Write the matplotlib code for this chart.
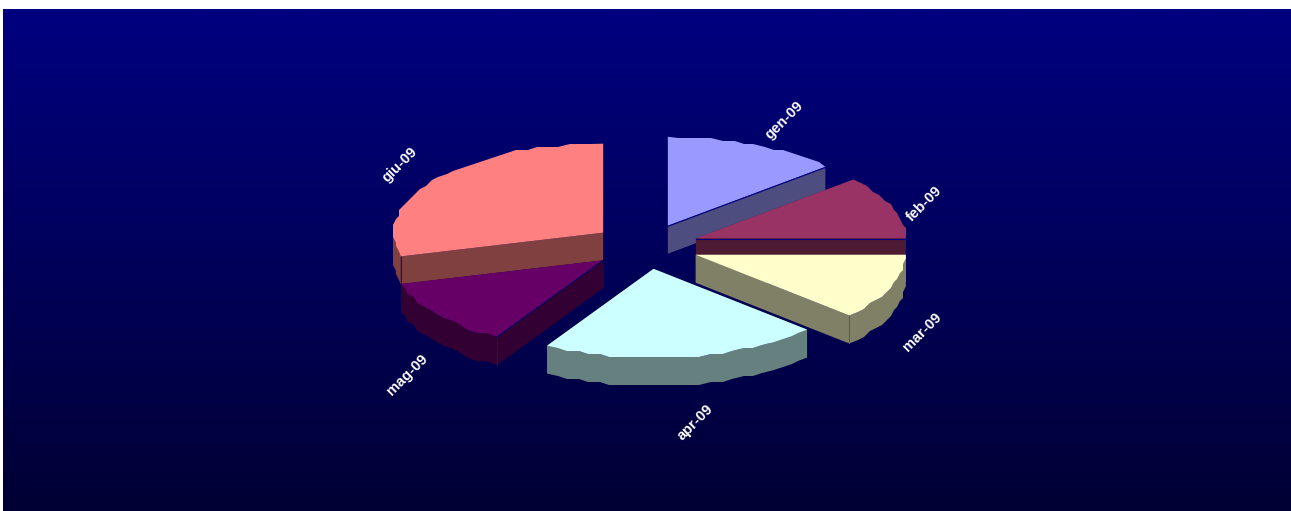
import numpy as np
import matplotlib
matplotlib.use("Agg")
import matplotlib.pyplot as plt

# Data (share of the pie, per cent)
mesi = ["gen-09", "feb-09", "mar-09", "apr-09", "mag-09", "giu-09"]
valori = [13.5, 11.5, 11.95, 21.5, 12.25, 29.3]
colori = ["#9999ff", "#993366", "#ffffcc", "#ccffff", "#660066", "#ff8080"]
colori_lato = ["#4d4d80", "#4d1a33", "#808066", "#668080", "#330033", "#804040"]

plt.rcParams["font.family"] = ["Liberation Sans", "DejaVu Sans"]

# Layout of the tilted pie, in pixels
cx, cy = 645.8, 246.4
rx, ry = 210.0, 89.0
esplosione = 0.255
spessore = 28.0
ordine = [0, 1, 2, 5, 4, 3]   # back to front
etichetta_offset = [(30, -24), (32, -3), (31, 45), (12, 65), (-30, 60), (-36, -14)]

fig = plt.figure(figsize=(12.91, 5.11), dpi=100, facecolor="white")
ax = fig.add_axes([0, 0, 1, 1])
ax.axis("off")

# Background gradient
sfondo = np.linspace(0, 1, 256)
img = np.zeros((256, 1, 3))
img[:, 0, 2] = (128 - 76 * sfondo) / 255
ax.imshow(img, extent=(3, 1291, 511, 9), aspect="auto", interpolation="bilinear", zorder=0)
ax.set_xlim(0, 1291)
ax.set_ylim(511, 0)

fine = np.cumsum(valori) / np.sum(valori) * 360
inizio = np.concatenate(([0], fine[:-1]))


def punto(x0, y0, gradi):
    t = np.radians(gradi)
    return x0 + rx * np.sin(t), y0 - ry * np.cos(t)


def bordo(x0, y0, a, b):
    # rim of a slice, snapped to a coarse grid like the original renderer
    n = max(int((b - a) / 3), 2)
    g = np.linspace(a, b, n + 1)
    x, y = punto(x0, y0, g)
    x[1:-1] = np.round(x[1:-1] / 3) * 3
    y[1:-1] = np.round(y[1:-1] / 3) * 3
    return g, x, y


z = 1
for i in ordine:
    a, b = inizio[i], fine[i]
    m = np.radians((a + b) / 2)
    x0 = cx + esplosione * rx * np.sin(m)
    y0 = cy - esplosione * ry * np.cos(m)
    g, x, y = bordo(x0, y0, a, b)

    # sides: both cut faces and the part of the rim that faces the viewer
    for k in (0, -1):
        ax.fill([x0, x[k], x[k], x0], [y0, y[k], y[k] + spessore, y0 + spessore],
                color=colori_lato[i], lw=0, zorder=z)
    davanti = (g >= 89.9) & (g <= 273)
    if davanti.sum() > 1:
        xr, yr = x[davanti], y[davanti]
        ax.fill(np.concatenate((xr, xr[::-1])), np.concatenate((yr, yr[::-1] + spessore)),
                color=colori_lato[i], lw=0, zorder=z)

    # thin edges seen on the cut faces
    if i == 2:
        ax.plot([x[-1], x[-1]], [y[-1], y[-1] + spessore], color="#5a5a70", lw=0.8, zorder=z + 0.1)
    if i in (4, 5):
        ax.plot([x[0], x[0]], [y[0], y[0] + spessore], color="#1a1a50", lw=0.8, zorder=z + 0.1)

    ax.fill(np.concatenate(([x0], x)), np.concatenate(([y0], y)), color=colori[i], lw=0, zorder=z + 0.2)

    if i in (0, 1):
        ax.plot([x0, x[-1]], [y0 + 0.6, y[-1] + 0.6], color="#000080", lw=0.8, zorder=z + 0.3)
    if i == 4:
        ax.plot([x0, x[0]], [y0, y[0]], color="#000060", lw=0.8, zorder=z + 0.3)
    z += 1

# Labels, rotated 45 degrees next to the rim of each slice
for i, mese in enumerate(mesi):
    gradi = (inizio[i] + fine[i]) / 2
    m = np.radians(gradi)
    x0 = cx + esplosione * rx * np.sin(m)
    y0 = cy - esplosione * ry * np.cos(m)
    ax.annotate(mese, xy=punto(x0, y0, gradi), xytext=(etichetta_offset[i][0] * 0.72, -etichetta_offset[i][1] * 0.72),
                textcoords="offset points", rotation=45, rotation_mode="anchor",
                ha="center", va="center", color="white", fontsize=10.5, fontweight="bold", zorder=50)

fig.savefig("out.png", dpi=100, facecolor="white")
